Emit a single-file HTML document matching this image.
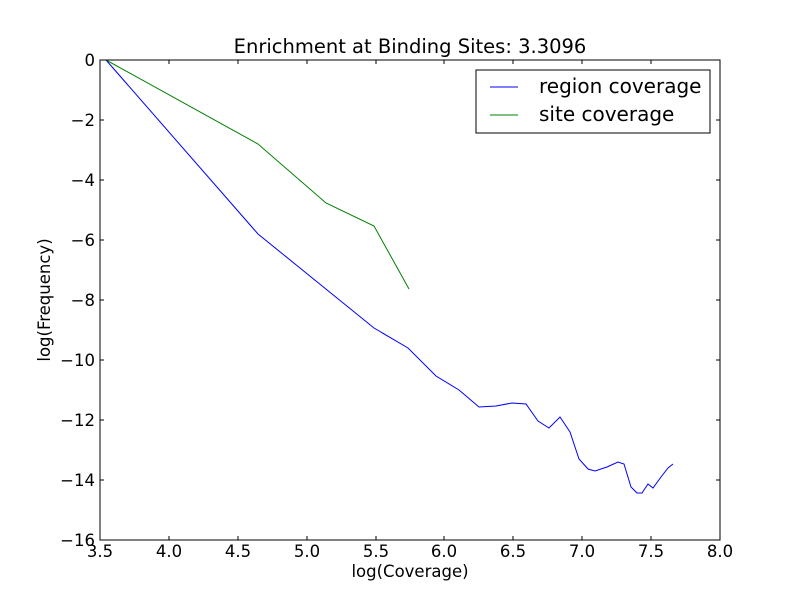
<!DOCTYPE html>
<html><head><style>body{margin:0;background:#fff}</style></head><body>
<svg width="800" height="600" xmlns="http://www.w3.org/2000/svg" font-family="DejaVu Sans, Liberation Sans, sans-serif">
<rect width="800" height="600" fill="#fff"/>
<polyline fill="none" stroke="#0000ff" stroke-width="1" points="106,60 258,234 374,328 408,348 436,376 459,390 479,407 496,406 512,403 526,404 538,421 549,428 560,417 570,432 579,459 588,469 595,471 607,467 618,462 624,464 631,487 637,493 642,493 648,484 653,488 661,477 668,468 673,464"/>
<polyline fill="none" stroke="#008000" stroke-width="1" points="106,60 258,144 326,203 374,226 409,289"/>
<rect x="100" y="60" width="620" height="480" fill="none" stroke="#000"/>
<g stroke="#000">
<path d="M100,540v-4M169,540v-4M238,540v-4M307,540v-4M376,540v-4M444,540v-4M513,540v-4M582,540v-4M651,540v-4M720,540v-4M100,60v4M169,60v4M238,60v4M307,60v4M376,60v4M444,60v4M513,60v4M582,60v4M651,60v4M720,60v4"/>
<path d="M100,60h4M100,120h4M100,180h4M100,240h4M100,300h4M100,360h4M100,420h4M100,480h4M100,540h4M720,60h-4M720,120h-4M720,180h-4M720,240h-4M720,300h-4M720,360h-4M720,420h-4M720,480h-4M720,540h-4"/>
</g>
<g font-size="16.5" text-anchor="middle">
<text x="100" y="557">3.5</text><text x="169" y="557">4.0</text><text x="238" y="557">4.5</text><text x="307" y="557">5.0</text><text x="376" y="557">5.5</text><text x="444" y="557">6.0</text><text x="513" y="557">6.5</text><text x="582" y="557">7.0</text><text x="651" y="557">7.5</text><text x="720" y="557">8.0</text>
</g>
<g font-size="16.5" text-anchor="end">
<text x="95" y="66">0</text><text x="95" y="126">−2</text><text x="95" y="186">−4</text><text x="95" y="246">−6</text><text x="95" y="306">−8</text><text x="95" y="366">−10</text><text x="95" y="426">−12</text><text x="95" y="486">−14</text><text x="95" y="546">−16</text>
</g>
<text x="410" y="577" font-size="16.5" text-anchor="middle">log(Coverage)</text>
<text transform="translate(50,300) rotate(-90)" font-size="16.5" text-anchor="middle">log(Frequency)</text>
<text x="410" y="53" font-size="19.5" text-anchor="middle">Enrichment at Binding Sites: 3.3096</text>
<rect x="476" y="70" width="234" height="63" fill="#fff" stroke="#000"/>
<line x1="490" y1="87" x2="518" y2="87" stroke="#0000ff"/>
<line x1="490" y1="115" x2="518" y2="115" stroke="#008000"/>
<text x="539" y="93" font-size="20">region coverage</text>
<text x="539" y="121" font-size="20">site coverage</text>
</svg>
</body></html>
